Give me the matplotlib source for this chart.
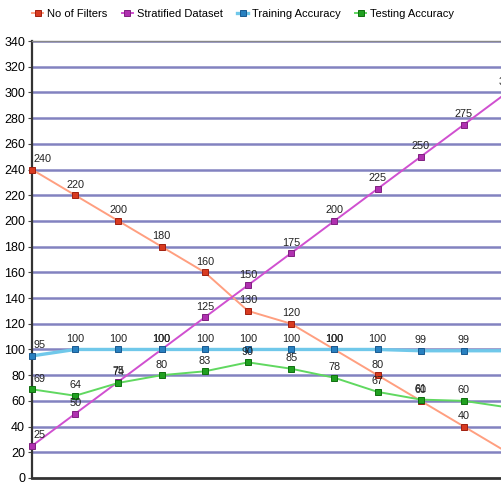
import matplotlib
matplotlib.use("Agg")
import matplotlib.pyplot as plt

# Series values per step
steps = list(range(12))
no_of_filters = [240, 220, 200, 180, 160, 130, 120, 100, 80, 60, 40, 20]
stratified = [25, 50, 75, 100, 125, 150, 175, 200, 225, 250, 275, 300]
training_acc = [95, 100, 100, 100, 100, 100, 100, 100, 100, 99, 99, 99]
testing_acc = [69, 64, 74, 80, 83, 90, 85, 78, 67, 61, 60, 55]
y_ticks = list(range(0, 341, 20))

font = "Liberation Sans"

fig = plt.figure(figsize=(5.01, 4.82), dpi=100)
W, H = 501, 482
left, right, top, bottom = 32, 32 + 43.2 * 11.3, 41, 478
ax = fig.add_axes([left / W, 1 - bottom / H, (right - left) / W, (bottom - top) / H])

series = [
    ("No of Filters", no_of_filters, "#ff9f80", "#d83a20", "#a02010"),
    ("Stratified Dataset", stratified, "#d050d0", "#b030b0", "#802080"),
    ("Training Accuracy", training_acc, "#70c8ea", "#2880c0", "#1a5a90"),
    ("Testing Accuracy", testing_acc, "#60d860", "#20a020", "#107010"),
]

for y in y_ticks[1:]:
    ax.axhline(y, color="#8282c0", lw=1.8, zorder=1)

handles = []
for name, vals, lc, mc, ec in series:
    lw = 2.4 if name == "Training Accuracy" else 1.4
    h, = ax.plot(steps, vals, color=lc, lw=lw, marker="s", ms=4.2,
                 mfc=mc, mec=ec, mew=0.7, zorder=3, label=name, clip_on=False)
    handles.append(h)
    for i, v in enumerate(vals):
        ha, dx = ("left", 1) if i == 0 else ("center", 0)
        ax.annotate(str(v), (i, v), xytext=(dx, 4), textcoords="offset points",
                    ha=ha, va="bottom", fontsize=7.8, family=font,
                    color="#222222", zorder=4, annotation_clip=False)

ax.set_xlim(0, 11.3)
ax.set_ylim(0, 340)
ax.set_yticks(y_ticks)
ax.set_xticks([])
ax.tick_params(axis="y", length=3, labelsize=9, pad=2, color="#444444")
for lab in ax.get_yticklabels():
    lab.set_family(font)
ax.spines["left"].set_color("#333333")
ax.spines["left"].set_linewidth(1.6)
ax.spines["bottom"].set_color("#333333")
ax.spines["bottom"].set_linewidth(2.0)
ax.spines["top"].set_color("#888888")
ax.spines["top"].set_linewidth(1.0)
ax.spines["right"].set_visible(False)

fig.legend(handles=handles, loc="upper left", bbox_to_anchor=(22 / W, 1 + 1 / H),
           ncol=4, frameon=False, prop={"family": font, "size": 8},
           handlelength=1.0, handletextpad=0.35, columnspacing=1.3, markerscale=0.9)

fig.savefig("out.png", dpi=100)
